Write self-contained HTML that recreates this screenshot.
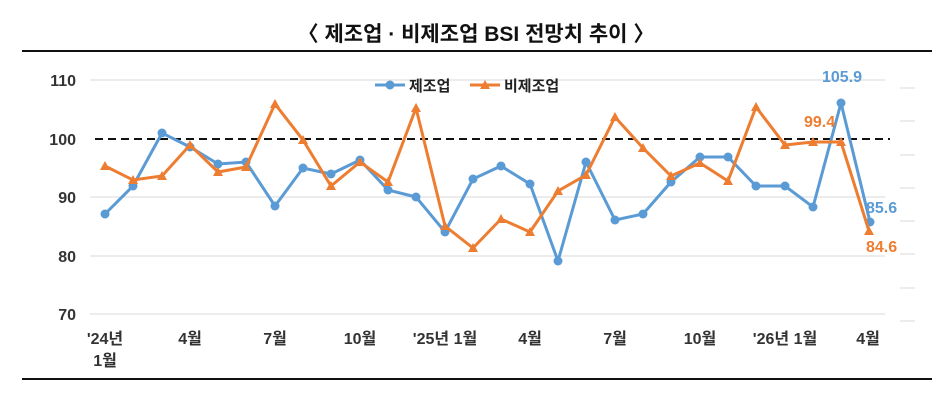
<!DOCTYPE html>
<html><head><meta charset="utf-8"><style>
body{margin:0;background:#fff;}
svg text{font-family:"Liberation Sans","Noto Sans CJK KR",sans-serif;}
</style></head><body>
<svg width="952" height="401" xmlns="http://www.w3.org/2000/svg">
<rect width="952" height="401" fill="#fff"/>
<text x="476" y="41" text-anchor="middle" font-size="21" font-weight="bold" fill="#111">〈 제조업 · 비제조업 BSI 전망치 추이 〉</text>
<line x1="22" y1="51" x2="932" y2="51" stroke="#111" stroke-width="2"/>
<line x1="22" y1="379" x2="932" y2="379" stroke="#111" stroke-width="2"/>
<g stroke="#d9d9d9" stroke-width="1">
<line x1="90" y1="80" x2="885" y2="80"/><line x1="90" y1="197" x2="885" y2="197"/><line x1="90" y1="256" x2="885" y2="256"/><line x1="90" y1="314" x2="885" y2="314"/>
<line x1="900" y1="88" x2="915" y2="88"/><line x1="900" y1="121" x2="915" y2="121"/><line x1="900" y1="155" x2="915" y2="155"/><line x1="900" y1="188" x2="915" y2="188"/><line x1="900" y1="221" x2="915" y2="221"/><line x1="900" y1="254" x2="915" y2="254"/><line x1="900" y1="288" x2="915" y2="288"/><line x1="900" y1="321" x2="915" y2="321"/>
</g>
<g font-size="16" font-weight="bold" fill="#333" text-anchor="end">
<text x="76" y="86">110</text><text x="76" y="145">100</text><text x="76" y="203">90</text><text x="76" y="262">80</text><text x="76" y="320">70</text>
</g>
<line x1="95" y1="139" x2="890" y2="139" stroke="#111" stroke-width="2" stroke-dasharray="8,5"/>
<g font-size="16" font-weight="bold" fill="#333" text-anchor="middle">
<text x="105" y="344">'24년</text><text x="105" y="366">1월</text>
<text x="190" y="344">4월</text><text x="275" y="344">7월</text><text x="360" y="344">10월</text>
<text x="445" y="344">'25년 1월</text><text x="530" y="344">4월</text><text x="615" y="344">7월</text>
<text x="700" y="344">10월</text><text x="785" y="344">'26년 1월</text><text x="868" y="344">4월</text>
</g>
<g transform="translate(375,85)">
<line x1="0" y1="0" x2="30" y2="0" stroke="#5B9BD5" stroke-width="3"/><circle cx="15" cy="0" r="4.5" fill="#5B9BD5"/>
<text x="34" y="6" font-size="15" font-weight="bold" fill="#222">제조업</text>
<line x1="95" y1="0" x2="125" y2="0" stroke="#ED7D31" stroke-width="3"/><polygon points="110,-5 115,4 105,4" fill="#ED7D31"/>
<text x="129" y="6" font-size="15" font-weight="bold" fill="#222">비제조업</text>
</g>
<polyline fill="none" stroke="#5B9BD5" stroke-width="3" points="105,214 133,186 162,133 190,147 218,164 246,162 275,206 303,168 331,174 360,160 388,190 416,197 445,232 473,179 501,166 530,184 558,261 586,162 615,220 643,214 671,182 700,157 728,157 756,186 785,186 813,207 841,103 870,222"/>
<g fill="#5B9BD5">
<circle cx="105" cy="214" r="4.5"/><circle cx="133" cy="186" r="4.5"/><circle cx="162" cy="133" r="4.5"/><circle cx="190" cy="147" r="4.5"/><circle cx="218" cy="164" r="4.5"/><circle cx="246" cy="162" r="4.5"/><circle cx="275" cy="206" r="4.5"/><circle cx="303" cy="168" r="4.5"/><circle cx="331" cy="174" r="4.5"/><circle cx="360" cy="160" r="4.5"/><circle cx="388" cy="190" r="4.5"/><circle cx="416" cy="197" r="4.5"/><circle cx="445" cy="232" r="4.5"/><circle cx="473" cy="179" r="4.5"/><circle cx="501" cy="166" r="4.5"/><circle cx="530" cy="184" r="4.5"/><circle cx="558" cy="261" r="4.5"/><circle cx="586" cy="162" r="4.5"/><circle cx="615" cy="220" r="4.5"/><circle cx="643" cy="214" r="4.5"/><circle cx="671" cy="182" r="4.5"/><circle cx="700" cy="157" r="4.5"/><circle cx="728" cy="157" r="4.5"/><circle cx="756" cy="186" r="4.5"/><circle cx="785" cy="186" r="4.5"/><circle cx="813" cy="207" r="4.5"/><circle cx="841" cy="103" r="4.5"/><circle cx="870" cy="222" r="4.5"/>
</g>
<polyline fill="none" stroke="#ED7D31" stroke-width="3" points="105,166 133,180 162,176 190,145 218,172 246,167 275,104 303,140 331,186 360,162 388,182 416,108 445,226 473,248 501,219 530,232 558,191 586,175 615,117 643,148 671,176 700,163 728,181 756,107 785,145 813,142 841,142 869,231"/>
<g fill="#ED7D31">
<polygon points="105,161 110,170 100,170"/><polygon points="133,175 138,184 128,184"/><polygon points="162,171 167,180 157,180"/><polygon points="190,140 195,149 185,149"/><polygon points="218,167 223,176 213,176"/><polygon points="246,162 251,171 241,171"/><polygon points="275,99 280,108 270,108"/><polygon points="303,135 308,144 298,144"/><polygon points="331,181 336,190 326,190"/><polygon points="360,157 365,166 355,166"/><polygon points="388,177 393,186 383,186"/><polygon points="416,103 421,112 411,112"/><polygon points="445,221 450,230 440,230"/><polygon points="473,243 478,252 468,252"/><polygon points="501,214 506,223 496,223"/><polygon points="530,227 535,236 525,236"/><polygon points="558,186 563,195 553,195"/><polygon points="586,170 591,179 581,179"/><polygon points="615,112 620,121 610,121"/><polygon points="643,143 648,152 638,152"/><polygon points="671,171 676,180 666,180"/><polygon points="700,158 705,167 695,167"/><polygon points="728,176 733,185 723,185"/><polygon points="756,102 761,111 751,111"/><polygon points="785,140 790,149 780,149"/><polygon points="813,137 818,146 808,146"/><polygon points="841,137 846,146 836,146"/><polygon points="869,226 874,235 864,235"/>
</g>
<g font-size="16" font-weight="bold">
<text x="822" y="82" fill="#5B9BD5">105.9</text>
<text x="804" y="127" fill="#ED7D31">99.4</text>
<text x="866" y="213" fill="#5B9BD5">85.6</text>
<text x="866" y="252" fill="#ED7D31">84.6</text>
</g>
</svg>
</body></html>
